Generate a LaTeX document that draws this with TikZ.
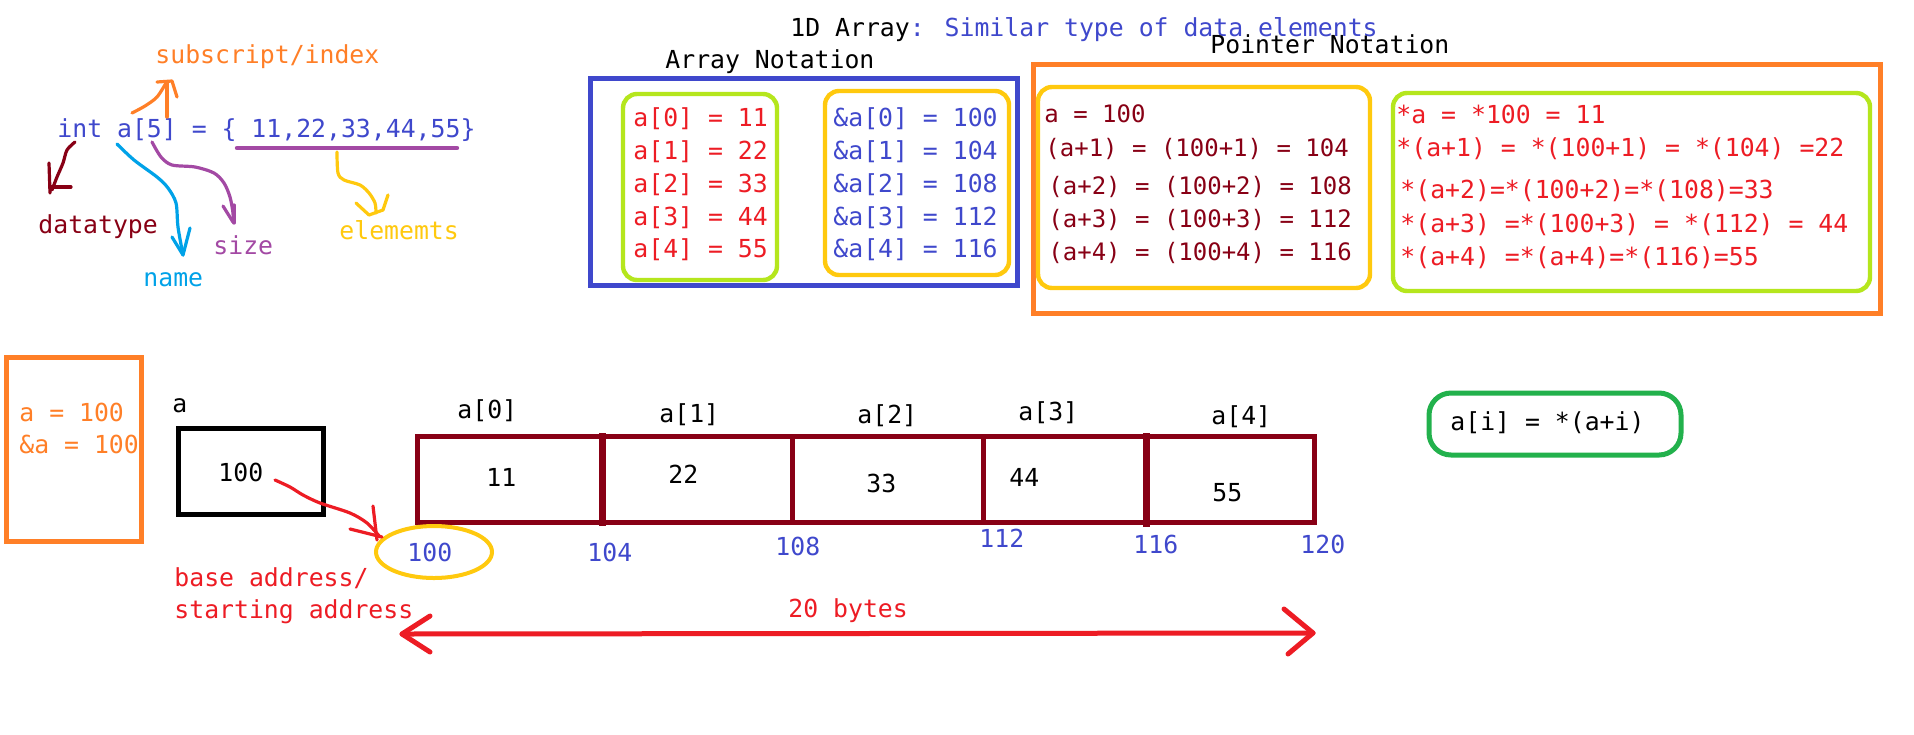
\documentclass[tikz,border=0pt]{standalone}
\usepackage{fontspec}
\newfontfamily\mono{DejaVu Sans Mono}
\usetikzlibrary{shapes.geometric}
\definecolor{cblue}{HTML}{3F48CC}
\definecolor{cred}{HTML}{ED1C24}
\definecolor{cdred}{HTML}{880015}
\definecolor{corange}{HTML}{FF7F27}
\definecolor{cyellow}{HTML}{FFC90E}
\definecolor{clime}{HTML}{B5E61D}
\definecolor{cgreen}{HTML}{22B14C}
\definecolor{ccyan}{HTML}{00A2E8}
\definecolor{cpurple}{HTML}{A349A4}
\tikzset{
  txt/.style={anchor=base west, inner sep=0pt, font=\mono\fontsize{12.4}{15}\selectfont},
  txtn/.style={anchor=base west, inner sep=0pt, font=\mono\fontsize{12.0}{15}\selectfont},
  boxline/.style={line width=2.5pt},
  rbox/.style={line width=2.2pt, rounded corners=7pt},
  hand/.style={line width=1.6pt, line cap=round, line join=round},
}
\begin{document}
\begin{tikzpicture}[x=0.5pt,y=-0.5pt]
\useasboundingbox[fill=white] (0,0) rectangle (1914,734);

% ---------- top titles ----------
\node[txt] (title) at (790,36) {1D Array\textcolor{cblue}{: Similar type of data elements}};
\node[txt] (ptrtitle) at (1210,53) {Pointer Notation};
\node[txt] (arrtitle) at (665,68) {Array Notation};

% ---------- declaration with annotations ----------
\node[txt,text=corange] (subidx) at (155,63) {subscript/index};
\node[txt,text=cblue] (decl) at (57,137) {int a[5] = \{ 11,22,33,44,55\}};
\draw[cpurple, line width=2.2pt, line cap=round] (237,148) -- (457,148);

\node[txt,text=cdred] (dtype) at (38,233) {datatype};
\node[txt,text=ccyan] (name) at (143,286) {name};
\node[txt,text=cpurple] (size) at (213,254) {size};
\node[txt,text=cyellow] (elems) at (339,239) {elememts};

% subscript arrow
\coordinate (subS) at (132,113);
\coordinate (subT) at (166,83);
\draw[corange,hand] plot[smooth] coordinates {(subS) (145,106) (157,97) (subT)};
\draw[corange,hand] (167,117) -- (167,82);
\draw[corange,hand] (157,82) -- (172,81) -- (177,97);

% datatype arrow
\coordinate (dtS) at (75,142);
\coordinate (dtT) at (52,190);
\draw[cdred,hand] plot[smooth] coordinates {(dtS) (67,150) (63,163) (57,177) (dtT)};
\draw[cdred,hand] (49,163) -- (50,193);
\draw[cdred,hand] (50,187) -- (71,187);

% name arrow
\coordinate (nmS) at (117,144);
\coordinate (nmT) at (183,255);
\draw[ccyan,hand] plot[smooth] coordinates {(nmS) (134,160) (157,177) (168,188) (176,203) (178,227) (nmT)};
\draw[ccyan,hand] (172,237) -- (nmT) -- (190,228);

% size arrow
\coordinate (szS) at (152,142);
\coordinate (szT) at (233,222);
\draw[cpurple,hand] plot[smooth] coordinates {(szS) (161,157) (172,165) (195,167) (214,173) (224,183) (230,197) (233,213) (szT)};
\draw[cpurple,hand] (223,206) -- (szT);
\draw[cpurple,hand] (234,205) -- (234,223);

% elements arrow
\coordinate (elS) at (337,152);
\coordinate (elT) at (376,213);
\draw[cyellow,hand] plot[smooth] coordinates {(elS) (338,173) (344,180) (360,185) (369,193) (375,203) (elT)};
\draw[cyellow,hand] (356,203) -- (369,215) -- (383,210) -- (388,195);

% ---------- Array notation ----------
\draw[cblue,boxline] (590,78) rectangle (1017,285);
\draw[clime,rbox] (623,94) rectangle (777,280);
\draw[cyellow,rbox] (825,91) rectangle (1009,275);
\node[txt,text=cred] (v0) at (633,126) {a[0] = 11};
\node[txt,text=cred] (v1) at (633,159) {a[1] = 22};
\node[txt,text=cred] (v2) at (633,192) {a[2] = 33};
\node[txt,text=cred] (v3) at (633,225) {a[3] = 44};
\node[txt,text=cred] (v4) at (633,257) {a[4] = 55};
\node[txt,text=cblue] (ad0) at (833,126) {\&a[0] = 100};
\node[txt,text=cblue] (ad1) at (833,159) {\&a[1] = 104};
\node[txt,text=cblue] (ad2) at (833,192) {\&a[2] = 108};
\node[txt,text=cblue] (ad3) at (833,225) {\&a[3] = 112};
\node[txt,text=cblue] (ad4) at (833,257) {\&a[4] = 116};

% ---------- Pointer notation ----------
\draw[corange,boxline] (1033,64) rectangle (1880,313);
\draw[cyellow,rbox] (1038,87) rectangle (1370,288);
\draw[clime,rbox] (1393,93) rectangle (1870,291);
\node[txtn,text=cdred] (p0) at (1044,122) {a = 100};
\node[txtn,text=cdred] (p1) at (1045,156) {(a+1) = (100+1) =  104};
\node[txtn,text=cdred] (p2) at (1048,194) {(a+2) = (100+2) = 108};
\node[txtn,text=cdred] (p3) at (1048,227) {(a+3) = (100+3) = 112};
\node[txtn,text=cdred] (p4) at (1048,260) {(a+4) = (100+4) = 116};
\node[txt,text=cred] (q0) at (1396,123) {*a = *100 = 11};
\node[txt,text=cred] (q1) at (1396,156) {*(a+1) = *(100+1) = *(104) =22};
\node[txt,text=cred] (q2) at (1400,198) {*(a+2)=*(100+2)=*(108)=33};
\node[txt,text=cred] (q3) at (1400,232) {*(a+3) =*(100+3) = *(112) = 44};
\node[txt,text=cred] (q4) at (1400,265) {*(a+4) =*(a+4)=*(116)=55};

% ---------- bottom: a = 100 box ----------
\draw[corange,boxline] (6,357) rectangle (141,541);
\node[txt,text=corange] (oa) at (19,421) {a = 100};
\node[txt,text=corange] (oaa) at (19,453) {\&a = 100};

% pointer variable a
\node[txt] (alabel) at (172,412) {a};
\draw[black,boxline] (178,428) rectangle (323,514);
\node[txt] (aval) at (218,481) {100};

% array cells
\draw[cdred,boxline] (417,436) rectangle (1314,522);
\draw[cdred,line width=3.5pt] (602,433) -- (602,526);
\draw[cdred,boxline] (792,436) -- (792,522);
\draw[cdred,boxline] (983,436) -- (983,522);
\draw[cdred,line width=3.5pt] (1146,433) -- (1146,527);

\node[txt] (l0) at (457,418) {a[0]};
\node[txt] (l1) at (659,422) {a[1]};
\node[txt] (l2) at (857,423) {a[2]};
\node[txt] (l3) at (1018,420) {a[3]};
\node[txt] (l4) at (1211,424) {a[4]};

\node[txt] (c0) at (486,486) {11};
\node[txt] (c1) at (668,483) {22};
\node[txt] (c2) at (866,492) {33};
\node[txt] (c3) at (1009,486) {44};
\node[txt] (c4) at (1212,501) {55};

\node[txt,text=cblue] (m0) at (407,561) {100};
\node[txt,text=cblue] (m1) at (587,561) {104};
\node[txt,text=cblue] (m2) at (775,555) {108};
\node[txt,text=cblue] (m3) at (979,547) {112};
\node[txt,text=cblue] (m4) at (1133,553) {116};
\node[txt,text=cblue] (m5) at (1300,553) {120};

\node[draw=cyellow, line width=2pt, ellipse, inner sep=0pt, minimum width=58pt, minimum height=26pt] (base) at (434,552) {};

% pointer arrow
\coordinate (ptS) at (275,480);
\coordinate (ptT) at (380,537);
\draw[cred,hand] plot[smooth] coordinates {(ptS) (290,487) (303,495) (320,503) (350,513) (367,523) (ptT)};
\draw[cred,hand] (350,529) -- (382,537);
\draw[cred,hand] (373,506) -- (377,540);

\node[txt,text=cred] (base1) at (174,586) {base address/};
\node[txt,text=cred] (base2) at (174,618) {starting address};

% 20 bytes
\node[txt,text=cred] (bytes) at (788,617) {20 bytes};
\coordinate (bL) at (402,634);
\coordinate (bR) at (1313,633);
\draw[cred,line width=2.5pt,line cap=round] (bL) -- (bR);
\draw[cred,line width=2.5pt,line cap=round,line join=round] (430,616) -- (bL) -- (430,652);
\draw[cred,line width=2.5pt,line cap=round,line join=round] (1284,609) -- (bR) -- (1288,654);

% a[i] = *(a+i)
\draw[cgreen,line width=2.5pt,rounded corners=11pt] (1429,393) rectangle (1681,455);
\node[txt] (rule) at (1450,430) {a[i] = *(a+i)};

\end{tikzpicture}
\end{document}
